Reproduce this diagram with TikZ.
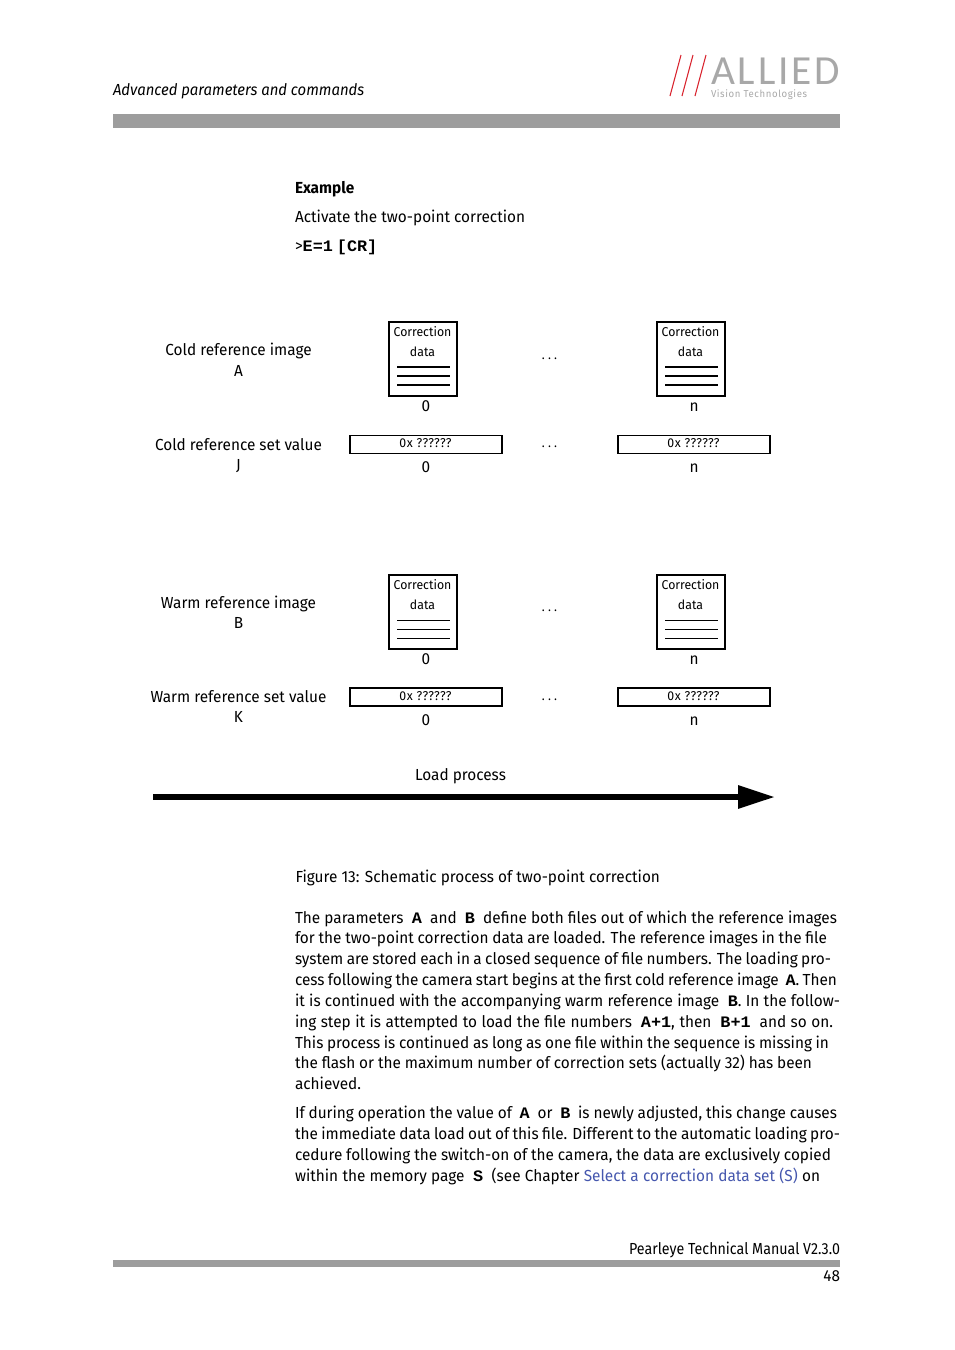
\documentclass[tikz,border=0pt]{standalone}
\usepackage{fontspec}
\usepackage{xcolor}
\usetikzlibrary{positioning,arrows.meta}
\setmainfont[FakeStretch=0.96]{Fira Sans}
\newfontfamily\cmdfont[FakeStretch=1.05]{Liberation Mono}
\newfontfamily\logofont[LetterSpace=7]{Carlito}
\newfontfamily\headfont[FakeStretch=0.93]{Fira Sans}
\newfontfamily\footfont[FakeStretch=0.89]{Fira Sans}
\definecolor{rulegray}{HTML}{9D9D9D}
\definecolor{logogray}{HTML}{A8A8A8}
\definecolor{logored}{HTML}{D9232E}
\definecolor{linkblue}{HTML}{4557AE}
\newcommand{\cmd}[1]{{\cmdfont\bfseries #1}}
\tikzset{
    basetext/.style={anchor=base, inner sep=0pt, outer sep=0pt, font=\fontsize{12}{14}\selectfont},
    leftext/.style={basetext, anchor=base west},
    smalltext/.style={basetext, font=\fontsize{9.6}{12}\selectfont},
    imgbox/.style={draw, rectangle, line width=1.5pt, minimum width=51pt, minimum height=55.5pt, inner sep=0pt},
    valbox/.style={draw, rectangle, minimum width=114pt, minimum height=13.2pt, inner sep=0pt},
    grayrule/.style={fill=rulegray, draw=none, rectangle, inner sep=0pt, anchor=north west},
}
\begin{document}
\begin{tikzpicture}[x=0.75pt, y=-0.75pt]
    \useasboundingbox (0,0) rectangle (954,1350);
    \fill[white] (0,0) rectangle (954,1350);

    % Header
    \node[leftext, font=\fontsize{12}{14}\headfont\itshape] (headtxt) at (113,95) {Advanced parameters and commands};
    \node[grayrule, minimum width=545.25pt, minimum height=10.5pt] (headrule) at (113,114) {};
    \node[leftext, text=logogray, text depth=0pt, font=\fontsize{31}{31}\logofont] (logomain) at (711,84) {ALLIED};
    \node[leftext, text=logogray, text height=5pt, font=\fontsize{7.5}{9}\selectfont\addfontfeature{LetterSpace=6}] (logosub) at (711,97) {Vision Technologies};
    \foreach \lx in {670,682,695}
        \draw[logored, line width=0.8pt] (\lx,96) -- (\lx+11,55);

    % Top text
    \node[leftext, font=\fontsize{12}{14}\selectfont\bfseries] (extitle) at (295,193) {Example};
    \node[leftext] (exline) at (295,222) {Activate the two-point correction};
    \node[leftext] (excmd) at (295,251) {>\cmd{E=1} \cmd{[CR]}};

    % Rows of correction data
    \foreach \nm/\yo/\lw/\vw in {cold/0/1.5pt/0.9pt, warm/253/0.75pt/1.2pt} {
        \foreach \idx/\xo in {0/0, n/268} {
            \node[imgbox] (\nm img\idx) at (422.5+\xo,359.2+\yo) {};
            \node[smalltext] (\nm cor\idx) at (422.5+\xo,336+\yo) {Correction};
            \node[smalltext] (\nm dat\idx) at (422.5+\xo,356+\yo) {data};
            \foreach \ly in {46,55,64}
                \draw[line width=\lw] ([shift={(9.5,\ly)}]\nm img\idx.north west) -- ([shift={(62.5,\ly)}]\nm img\idx.north west);
            \node[basetext] (\nm numa\idx) at (426+\xo,411+\yo) {\idx};
            \node[valbox, line width=\vw] (\nm val\idx) at (426+\xo,444.5+\yo-0.5*\yo/253) {};
            \node[smalltext] (\nm hex\idx) at (425.5+\xo,447+\yo) {\addfontfeature{LetterSpace=5}0x ??????};
            \node[basetext] (\nm numb\idx) at (426+\xo,472+\yo) {\idx};
        }
        \node[smalltext] (\nm dotsa) at (549.5,359+\yo-\yo/253) {\addfontfeature{LetterSpace=25}...};
        \node[smalltext] (\nm dotsb) at (549.5,447+\yo) {\addfontfeature{LetterSpace=25}...};
    }

    % Row labels
    \node[basetext] (coldimg) at (238.5,355) {Cold reference image};
    \node[basetext] (coldimgl) at (238.5,376) {A};
    \node[basetext] (coldset) at (238.5,450) {Cold reference set value};
    \node[basetext] (coldsetl) at (238.5,470) {J};
    \node[basetext] (warmimg) at (238.5,608) {Warm reference image};
    \node[basetext] (warmimgl) at (238.5,628) {B};
    \node[basetext] (warmset) at (238.5,702) {Warm reference set value};
    \node[basetext] (warmsetl) at (238.5,722) {K};

    % Load arrow
    \node[basetext] (loadtxt) at (460.5,780) {Load process};
    \coordinate (loadstart) at (153,797);
    \coordinate (loadend) at (775,797);
    \draw[-{Triangle[length=27.75pt,width=16.5pt]}, line width=4.5pt] (loadstart) -- (loadend);

    % Caption and body text
    \node[leftext] (caption) at (295.5,882) {Figure 13: Schematic process of two-point correction};
    \foreach \yy/\tw/\txt [count=\ci] in {
        923/542/{The parameters \ \cmd{A} \ and \ \cmd{B} \ define both files out of which the reference images},
        943/532/{for the two-point correction data are loaded. The reference images in the file},
        964.5/536/{system are stored each in a closed sequence of file numbers. The loading pro-},
        985/542/{cess following the camera start begins at the first cold reference image \ \cmd{A}. Then},
        1006/545/{it is continued with the accompanying warm reference image \ \cmd{B}. In the follow-},
        1027/538/{ing step it is attempted to load the file numbers \ \cmd{A+1}, then \ \cmd{B+1} \ and so on.},
        1048/534/{This process is continued as long as one file within the sequence is missing in},
        1068/517/{the flash or the maximum number of correction sets (actually 32) has been},
        1089/66/{achieved.},
        1118/542/{If during operation the value of \ \cmd{A} \ or \ \cmd{B} \ is newly adjusted, this change causes},
        1139/545/{the immediate data load out of this file. Different to the automatic loading pro-},
        1160/536/{cedure following the switch-on of the camera, the data are exclusively copied},
        1181/525/{within the memory page \ \cmd{S} \ (see Chapter \textcolor{linkblue}{Select a correction data set (S)} on}} {
        \node[leftext] (body\ci) at (295,\yy) {\makebox[\dimexpr\tw pt*3/4\relax][s]{\txt}};
    }

    % Footer
    \node[basetext, anchor=base east, font=\fontsize{12}{14}\footfont] (foottxt) at (840,1254) {Pearleye Technical Manual V2.3.0};
    \node[grayrule, minimum width=545.25pt, minimum height=5.25pt] (footrule) at (113,1260) {};
    \node[basetext, anchor=base east] (pagenum) at (840,1281) {48};
\end{tikzpicture}
\end{document}
